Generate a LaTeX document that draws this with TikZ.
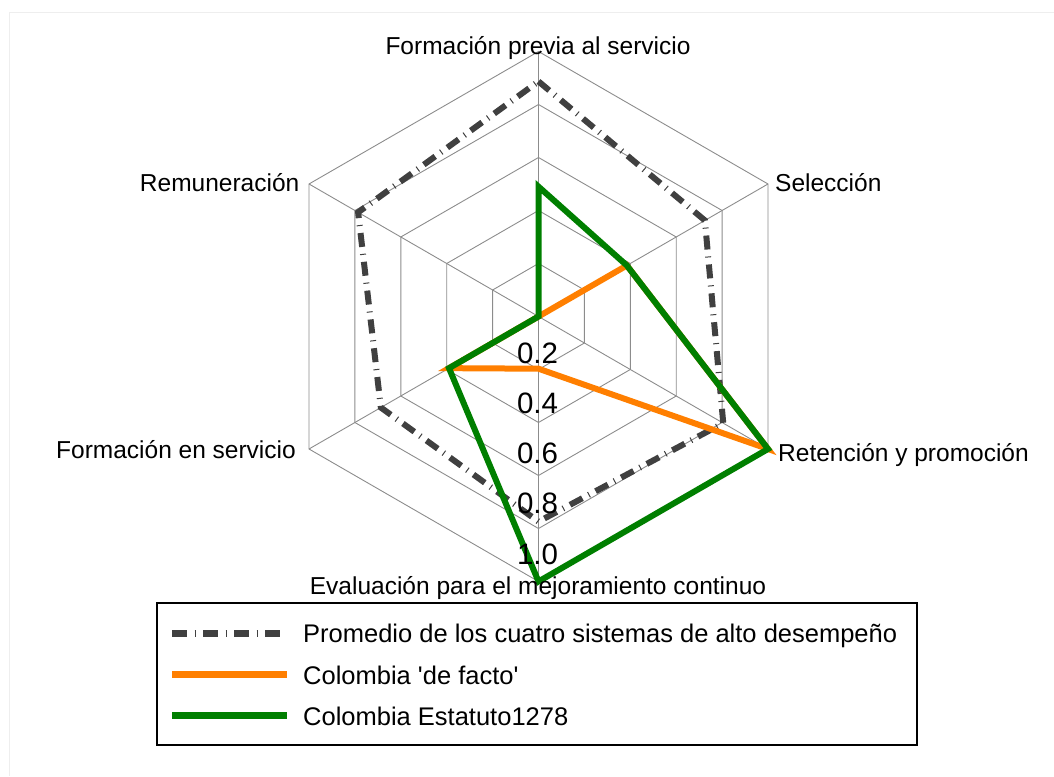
\documentclass[tikz,border=0pt]{standalone}
\usepackage{fontspec}
\setmainfont{Liberation Sans}
\newfontfamily\legfont{Liberation Sans}
\definecolor{avgcol}{HTML}{404040}
\definecolor{orgcol}{HTML}{FF7F00}
\definecolor{grncol}{HTML}{007F00}
\definecolor{gridcol}{HTML}{8C8C8C}
\definecolor{framecol}{HTML}{EEEEEE}
\begin{document}
\begin{tikzpicture}[x=1pt,y=1pt,
  gridline/.style={draw=gridcol, line width=0.9pt},
  avgline/.style={draw=avgcol, line width=6pt, dash pattern=on 14pt off 7pt on 1pt off 7pt},
  orgline/.style={draw=orgcol, line width=6pt},
  grnline/.style={draw=grncol, line width=6pt},
  axislabel/.style={inner sep=0pt, font=\fontsize{24.5}{28}\selectfont},
  ticklabel/.style={inner sep=0pt, anchor=base, font=\fontsize{29.5}{34}\selectfont},
  legtext/.style={inner sep=0pt, anchor=base west, font=\legfont\fontsize{25.5}{30}\selectfont},
  legbox/.style={draw=black, line width=1.2pt}
]
\useasboundingbox (0,0) rectangle (1054,776);
\draw[framecol, line width=1pt] (9,0) -- (9,763) -- (1054,763);

\begin{scope}[shift={(538.5,459.5)}]
  \coordinate (C) at (0,0);
  % rings
  \foreach \k in {1,...,5}{
    \draw[gridline] (90:{\k*53}) -- (30:{\k*53}) -- (-30:{\k*53}) -- (-90:{\k*53}) -- (210:{\k*53}) -- (150:{\k*53}) -- cycle;
  }
  % spokes
  \foreach \a in {90,30,-30,-90,210,150}{
    \draw[gridline] (C) -- (\a:265);
  }
  % average of four high performing systems
  \draw[avgline] (90:{0.887*265}) -- (30:{0.725*265}) -- (-30:{0.805*265}) -- (-90:{0.774*265}) -- (210:{0.687*265}) -- (150:{0.786*265}) -- cycle;
  % Colombia de facto
  \draw[orgline] (C) -- (30:{0.385*265}) -- (-30:265) -- (-90:{0.197*265}) -- (210:{0.39*265}) -- (C) -- cycle;
  % Colombia Estatuto 1278
  \draw[grnline] (90:{0.49*265}) -- (30:{0.385*265}) -- (-30:265) -- (-90:265) -- (210:{0.39*265}) -- (C) -- cycle;
\end{scope}

% axis labels
\node[axislabel, anchor=base] (ax1) at (538,721) {Formación previa al servicio};
\node[axislabel, anchor=base west] (ax2) at (775,584.5) {Selección};
\node[axislabel, anchor=base west] (ax3) at (778,314.5) {Retención y promoción};
\node[axislabel, anchor=base] (ax4) at (538,181) {Evaluación para el mejoramiento continuo};
\node[axislabel, anchor=base east] (ax5) at (296,317.7) {Formación en servicio};
\node[axislabel, anchor=base east] (ax6) at (299.5,584.3) {Remuneración};

% tick labels
\node[ticklabel] (t1) at (537.5,412) {0.2};
\node[ticklabel] (t2) at (537.5,362) {0.4};
\node[ticklabel] (t3) at (537.5,312) {0.6};
\node[ticklabel] (t4) at (537.5,262) {0.8};
\node[ticklabel] (t5) at (537.5,211.5) {1.0};

% legend
\draw[legbox] (157,173) rectangle (917,31);
\coordinate (l1a) at (172,142); \coordinate (l1b) at (287,142);
\coordinate (l2a) at (172,101); \coordinate (l2b) at (287,101);
\coordinate (l3a) at (172,60.3); \coordinate (l3b) at (287,60.3);
\draw[avgline, line width=7pt, dash pattern=on 15pt off 7.5pt on 1pt off 7.5pt] (l1a) -- (l1b);
\draw[orgline, line width=7pt] (l2a) -- (l2b);
\draw[grnline, line width=7pt] (l3a) -- (l3b);
\node[legtext] (lt1) at (303,133) {Promedio de los cuatro sistemas de alto desempeño};
\node[legtext] (lt2) at (303,91.5) {Colombia 'de facto'};
\node[legtext] (lt3) at (303,50.5) {Colombia Estatuto1278};
\end{tikzpicture}
\end{document}
